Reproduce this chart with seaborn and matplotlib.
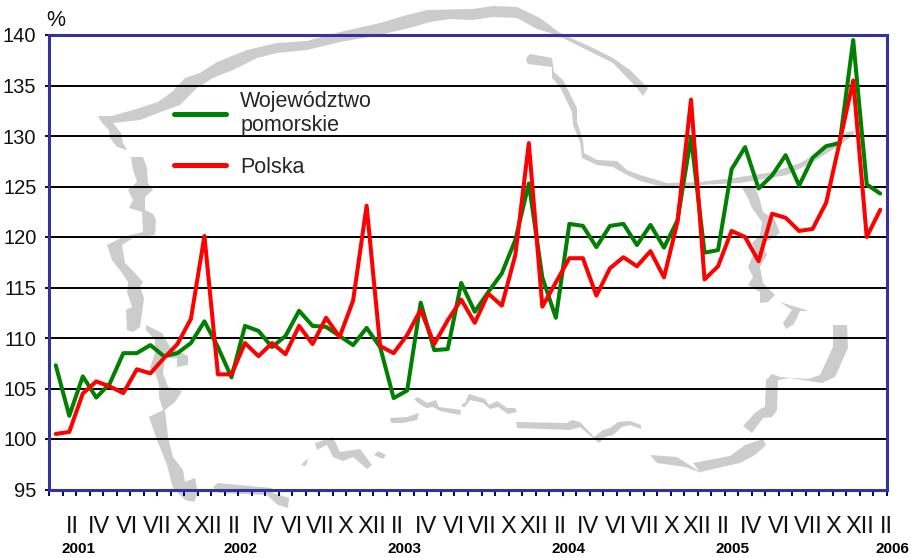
import matplotlib
matplotlib.use("Agg")
import matplotlib.pyplot as plt
from matplotlib.transforms import Affine2D
import pandas as pd
import seaborn as sns

# Data
pomorskie = [107.3, 102.3, 106.2, 104.1, 105.5, 108.5, 108.5, 109.3, 108.2, 108.5, 109.5, 111.65,
             109.1, 106.1, 111.2, 110.7, 109.1, 110.2, 112.7, 111.2, 111.1, 110.2, 109.3, 111.0,
             109.1, 104.05, 104.8, 113.5, 108.8, 108.9, 115.45, 112.6, 114.55, 116.4, 119.7, 125.3,
             116.0, 112.0, 121.3, 121.1, 119.0, 121.1, 121.3, 119.2, 121.2, 118.95, 121.65, 129.9,
             118.45, 118.7, 126.7, 128.9, 124.8, 126.1, 128.1, 125.1, 127.85, 129.0, 129.3, 139.5,
             125.2, 124.3]
polska = [100.5, 100.7, 104.5, 105.7, 105.2, 104.55, 106.9, 106.5, 108.0, 109.4, 111.9, 120.1,
          106.4, 106.4, 109.5, 108.2, 109.5, 108.4, 111.2, 109.4, 112.0, 110.1, 113.7, 123.1,
          109.2, 108.5, 110.3, 112.8, 109.4, 111.75, 113.8, 111.5, 114.4, 113.2, 118.2, 129.3,
          113.1, 115.5, 117.9, 117.9, 114.2, 116.9, 118.0, 117.1, 118.6, 116.0, 121.5, 133.6,
          115.8, 117.1, 120.6, 120.0, 117.6, 122.3, 121.9, 120.6, 120.8, 123.4, 129.4, 135.5,
          120.0, 122.7]
y_ticks = [95, 100, 105, 110, 115, 120, 125, 130, 135, 140]
month_labels = ["II", "IV", "VI", "VII", "X", "XII"] * 5 + ["II"]
month_pos = [1.2, 3.2, 5.27, 7.49, 9.41, 11.26, 13.18, 15.33, 17.47, 19.55, 21.4, 23.4,
             25.24, 27.39, 29.46, 31.53, 33.45, 35.38, 37.3, 39.37, 41.45, 43.6, 45.52, 47.45,
             49.37, 51.44, 53.51, 55.66, 57.51, 59.51, 61.42]
years = ["2001", "2002", "2003", "2004", "2005", "2006"]
year_pos = [1.7, 13.7, 25.8, 37.9, 50.1, 61.9]

# Grey map outline in the background, traced in image pixels
map_shapes = [
    [(98, 116), (112, 116), (133, 110), (158, 102), (172, 92), (185, 78), (200, 73), (217, 62), (247, 50),
     (277, 43), (307, 41), (340, 32), (380, 23), (407, 15), (427, 10), (473, 9), (493, 6), (517, 7), (540, 18),
     (560, 33), (593, 48), (613, 58), (630, 70), (648, 88), (643, 96), (637, 88), (613, 63), (587, 50), (557, 35),
     (537, 29), (517, 18), (493, 17), (473, 20), (450, 19), (430, 22), (413, 27), (380, 35), (340, 42), (307, 50),
     (277, 53), (257, 58), (233, 70), (213, 78), (197, 88), (180, 105), (158, 113), (140, 120), (113, 123),
     (121, 133), (123, 143), (127, 150), (117, 147), (110, 138), (109, 130), (102, 123)],
    [(131, 157), (133, 170), (137, 182), (128, 190), (133, 200), (129, 208), (142, 212), (143, 232), (123, 237),
     (107, 245), (112, 260), (122, 273), (128, 282), (127, 292), (132, 307), (126, 310), (127, 330), (133, 332),
     (140, 327), (142, 313), (144, 298), (140, 287), (143, 282), (135, 273), (125, 263), (122, 245), (133, 238),
     (155, 235), (156, 220), (153, 214), (145, 210), (145, 197), (153, 190), (148, 183), (147, 168), (143, 157)],
    [(146, 325), (162, 333), (170, 347), (188, 356), (188, 365), (177, 367), (177, 358), (165, 358), (163, 373),
     (168, 387), (182, 391), (175, 402), (165, 410), (168, 437), (173, 457), (183, 470), (185, 482), (195, 478),
     (198, 493), (194, 502), (185, 500), (173, 488), (167, 465), (157, 440), (149, 417), (163, 410), (159, 397),
     (159, 385), (155, 372), (150, 368), (155, 353), (155, 340), (146, 330)],
    [(213, 487), (218, 483), (250, 486), (272, 488), (273, 493), (289, 498), (288, 508), (278, 505), (267, 495),
     (218, 493)],
    [(301, 465), (308, 458), (306, 466)],
    [(315, 443), (333, 437), (340, 452), (360, 449), (372, 465), (367, 469), (353, 457), (343, 461), (333, 457),
     (327, 445), (317, 450)],
    [(374, 455), (378, 451), (386, 455), (383, 459)],
    [(390, 418), (407, 417), (419, 413), (417, 420), (403, 423), (391, 423)],
    [(414, 399), (418, 397), (427, 403), (436, 400), (439, 407), (461, 410), (460, 415), (440, 411), (433, 407),
     (426, 408), (418, 403)],
    [(462, 404), (465, 403), (469, 394), (485, 399), (489, 405), (497, 401), (507, 408), (515, 408), (517, 412),
     (508, 414), (498, 407), (490, 409), (483, 403), (470, 400), (465, 407), (462, 407)],
    [(516, 422), (567, 423), (572, 420), (580, 422), (594, 437), (603, 430), (610, 428), (618, 422), (630, 421),
     (641, 425), (641, 429), (630, 425), (622, 427), (613, 435), (605, 437), (599, 443), (592, 437), (580, 427),
     (570, 430), (517, 428)],
    [(650, 455), (677, 457), (702, 473), (685, 467), (657, 463)],
    [(693, 463), (730, 456), (745, 445), (763, 439), (766, 445), (755, 455), (740, 463), (700, 472)],
    [(743, 426), (755, 413), (762, 408), (765, 407), (766, 380), (772, 374), (780, 377), (808, 379), (820, 375),
     (833, 347), (833, 325), (847, 325), (848, 348), (835, 377), (822, 383), (790, 378), (778, 380), (777, 410),
     (772, 417), (763, 418), (752, 433)],
    [(780, 302), (809, 311), (800, 311), (794, 324), (786, 329), (783, 323), (792, 310)],
    [(742, 188), (755, 187), (760, 200), (763, 212), (775, 220), (780, 233), (770, 240), (762, 243), (767, 255),
     (760, 267), (763, 283), (775, 295), (768, 302), (760, 303), (760, 292), (748, 285), (753, 277), (748, 267),
     (755, 250), (752, 243), (760, 235), (762, 222), (752, 208), (748, 198)],
    [(527, 57), (530, 54), (552, 58), (554, 72), (563, 80), (577, 108), (577, 122), (583, 140), (584, 153),
     (597, 160), (617, 161), (627, 170), (640, 175), (667, 183), (700, 182), (733, 178), (773, 172), (800, 163),
     (827, 148), (847, 132), (855, 131), (853, 135), (840, 145), (813, 162), (787, 175), (740, 183), (700, 185),
     (667, 188), (640, 181), (627, 175), (613, 167), (597, 165), (582, 158), (580, 142), (573, 125), (572, 112),
     (560, 87), (552, 78), (552, 67), (528, 64), (526, 60)],
]

df = pd.DataFrame({
    "miesiac": list(range(len(pomorskie))) * 2,
    "wartosc": pomorskie + polska,
    "seria": ["Województwo\npomorskie"] * len(pomorskie) + ["Polska"] * len(polska),
})

sns.set_style("white")
plt.rcParams["font.family"] = ["Liberation Sans", "DejaVu Sans"]

fig = plt.figure(figsize=(9.12, 5.58), dpi=100)
ax = fig.add_axes([49 / 912, 1 - 489.5 / 558, 838 / 912, 454.5 / 558])

# pixel coordinates of the image -> figure
px = Affine2D().scale(1 / 912, -1 / 558).translate(0, 1) + fig.transFigure
for shape in map_shapes:
    ax.fill([p[0] for p in shape], [p[1] for p in shape], color="#cccccc", lw=0,
            transform=px, clip_on=False, zorder=0.1)

sns.lineplot(data=df, x="miesiac", y="wartosc", hue="seria", sort=False, errorbar=None,
             palette=["#008000", "#ff0000"], linewidth=2.9, ax=ax, zorder=3)

ax.set_xlim(-0.5, 61.5)
ax.set_ylim(95, 140)
ax.set_xlabel("")
ax.set_ylabel("")
ax.set_axisbelow(True)

ax.set_yticks(y_ticks)
ax.set_yticklabels([str(v) for v in y_ticks], fontsize=14.5)
ax.yaxis.grid(True, color="black", linewidth=1.4)
ax.xaxis.grid(False)
ax.tick_params(axis="y", left=True, length=3, width=1.4, color="#000080", pad=6, labelcolor="#111111")

ax.set_xticks(month_pos)
ax.set_xticklabels(month_labels, fontsize=17, color="#111111")
ax.set_xticks([i - 0.5 for i in range(63)], minor=True)
ax.tick_params(axis="x", which="major", bottom=False, length=0, pad=19)
ax.tick_params(axis="x", which="minor", bottom=True, length=4, width=1.4, color="#000080")

for spine in ax.spines.values():
    spine.set_visible(True)
    spine.set_color("#333399")
    spine.set_linewidth(2.2)
    spine.set_zorder(5)

for label, x in zip(years, year_pos):
    ax.text(x, -0.13, label, transform=ax.get_xaxis_transform(), ha="center", va="center",
            fontsize=11, fontweight="bold", color="black", clip_on=False)

fig.text(56 / 912, 1 - 20 / 558, "%", ha="center", va="center", fontsize=15.5, color="#111111")

handles, labels = ax.get_legend_handles_labels()
leg = ax.legend(handles, labels, loc="upper left", bbox_to_anchor=(174 / 912, 1 - 91 / 558),
                bbox_transform=fig.transFigure, frameon=False, fontsize=15.5, handlelength=2.4,
                handletextpad=0.68, labelspacing=0.95, borderpad=0, borderaxespad=0)
for line in leg.get_lines():
    line.set_linewidth(3.6)

fig.savefig("out.png", dpi=100, facecolor="white")
